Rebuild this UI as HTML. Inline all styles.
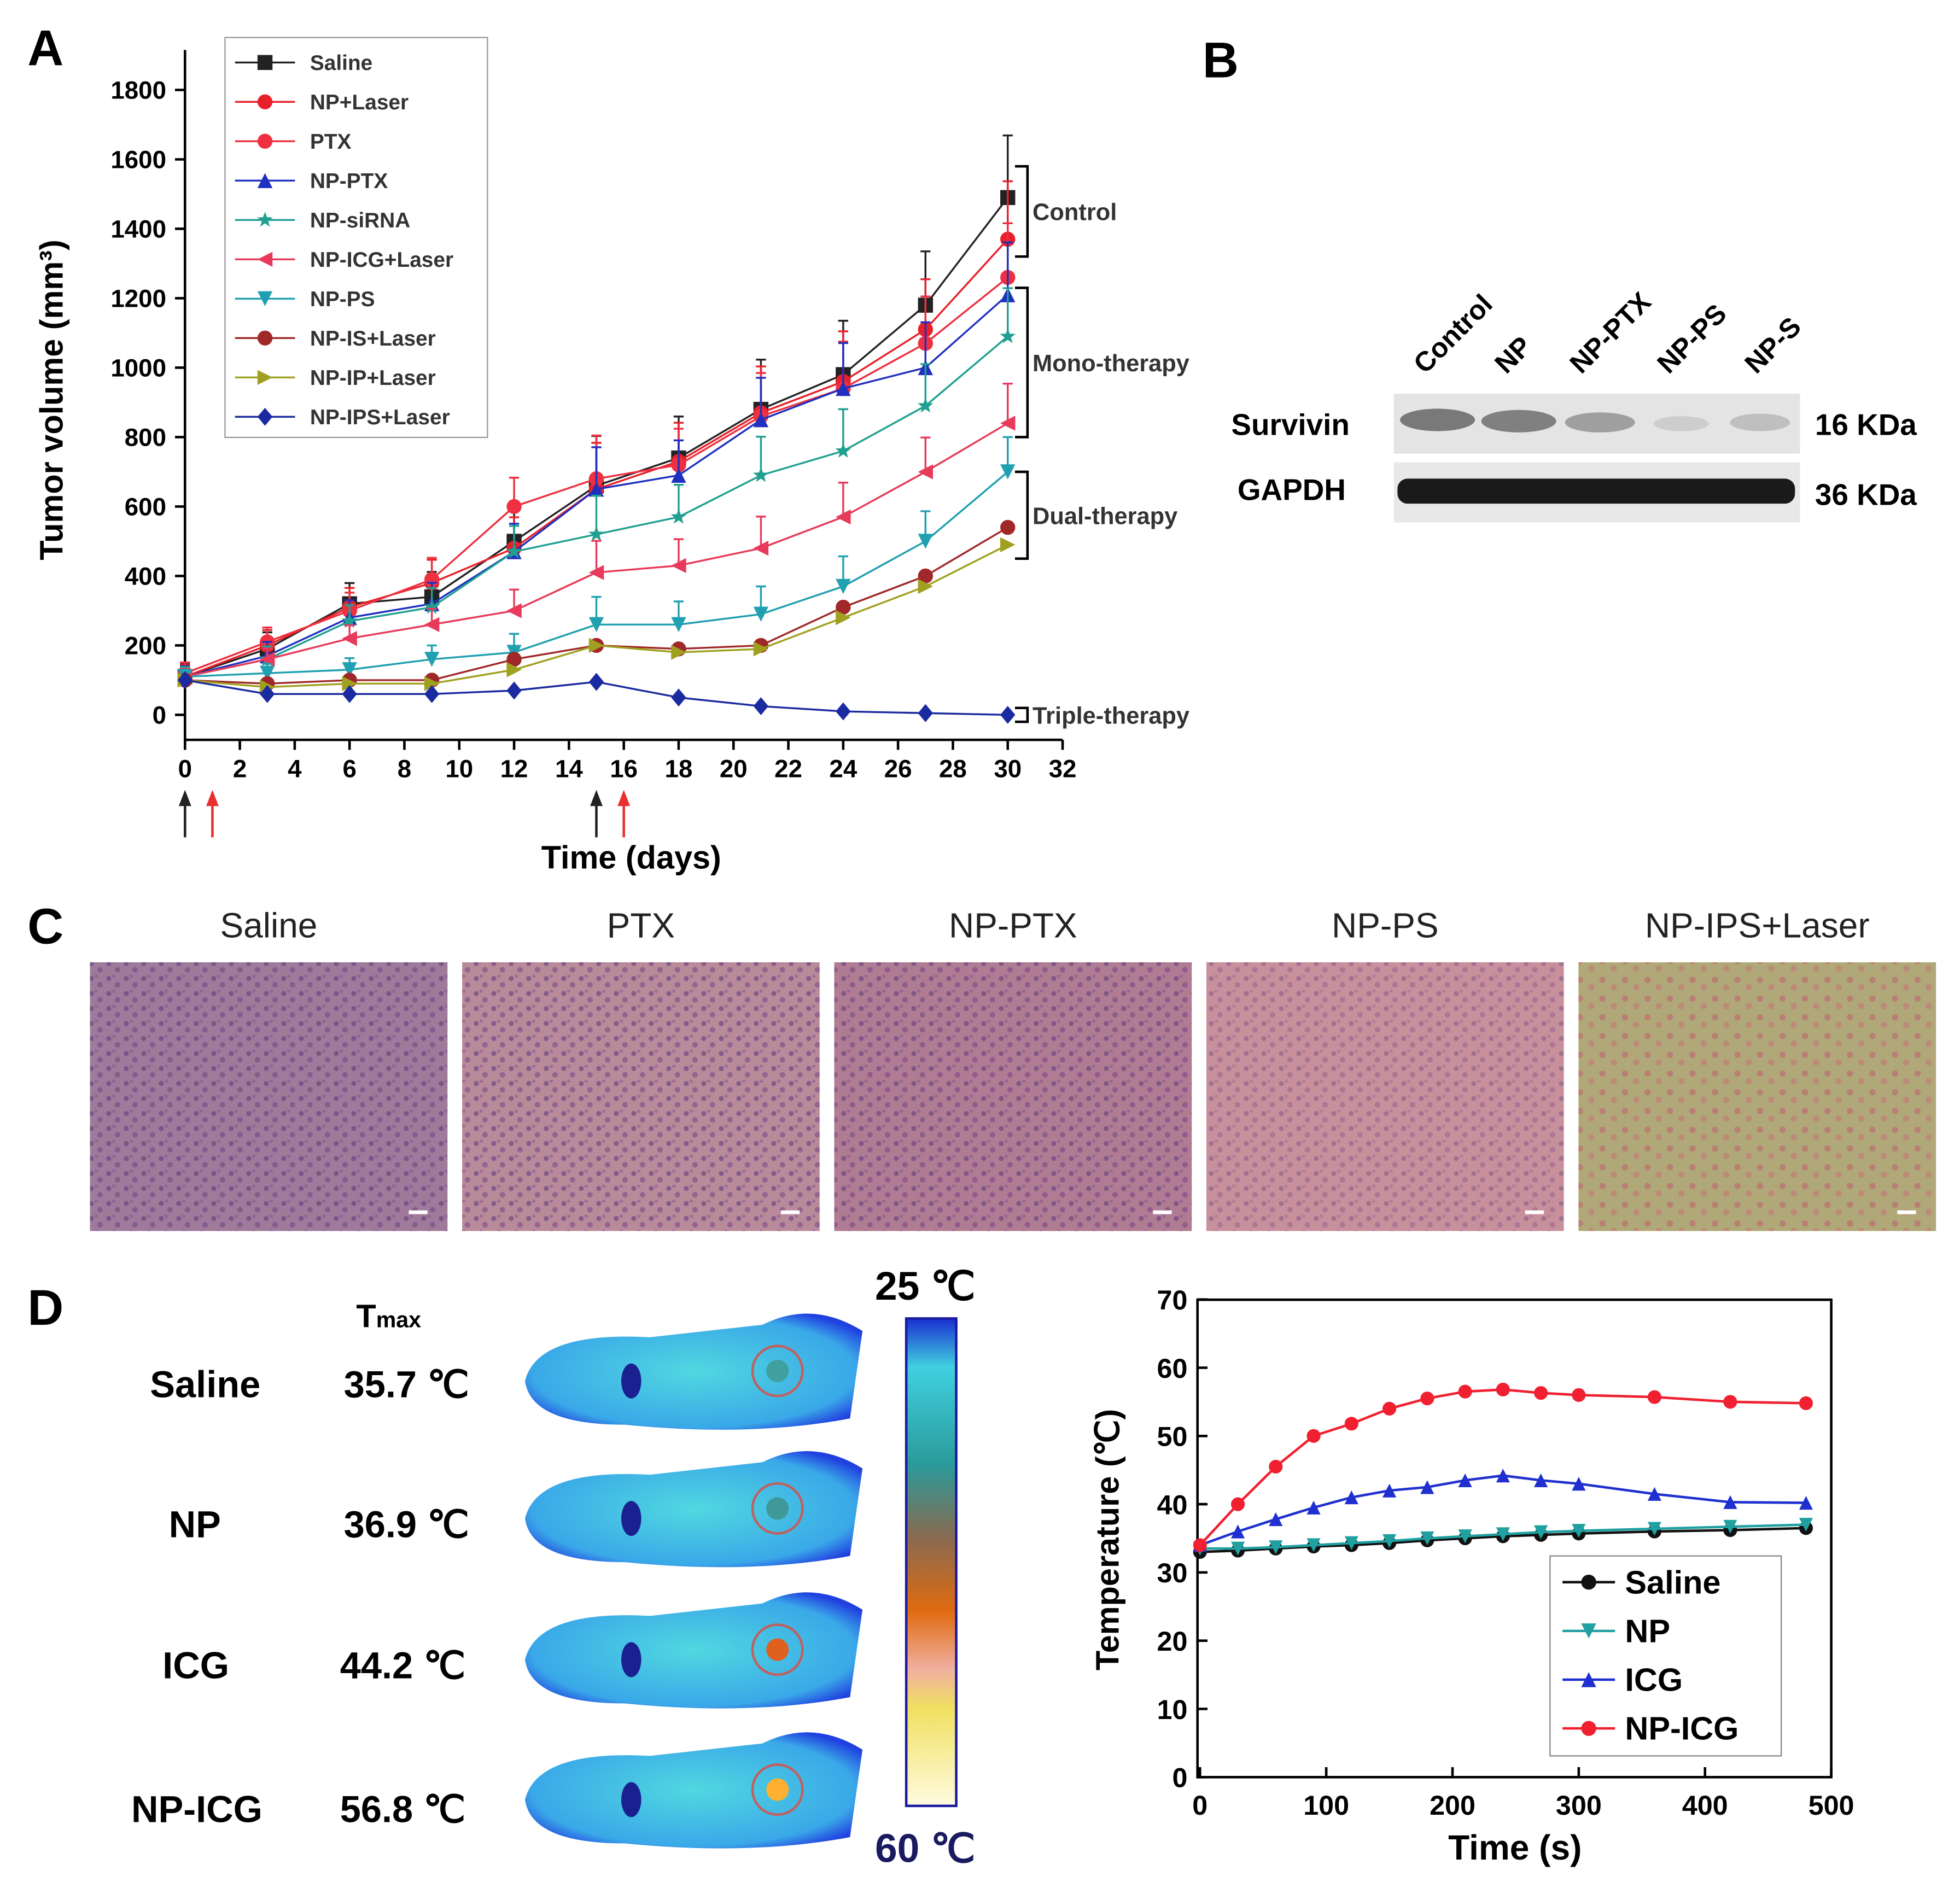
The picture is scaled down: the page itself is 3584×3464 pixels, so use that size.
<!DOCTYPE html>
<html><head><meta charset="utf-8">
<style>
html,body{margin:0;padding:0;background:#fff;}
svg{display:block;font-family:"Liberation Sans",sans-serif;}
</style></head>
<body>
<svg id="fig" width="3584" height="3464" viewBox="0 0 1568 1515.5" xmlns="http://www.w3.org/2000/svg">
<defs>
<linearGradient id="cbar" x1="0" y1="0" x2="0" y2="1">
<stop offset="0" stop-color="#1a2fd0"/><stop offset="0.1" stop-color="#40d0e0"/><stop offset="0.3" stop-color="#2a9a9a"/><stop offset="0.45" stop-color="#8a6a50"/><stop offset="0.6" stop-color="#e06a10"/><stop offset="0.72" stop-color="#f0b0a0"/><stop offset="0.8" stop-color="#f0e060"/><stop offset="1" stop-color="#fffbe0"/></linearGradient>
<radialGradient id="mouse" cx="0.5" cy="0.5" r="0.6"><stop offset="0" stop-color="#50d8e0"/><stop offset="0.8" stop-color="#3aa8e8"/><stop offset="1" stop-color="#2040e0"/></radialGradient>
<pattern id="cells" width="14" height="12" patternUnits="userSpaceOnUse"><circle cx="3" cy="3" r="2" fill="#5a3a7a" opacity="0.7"/><circle cx="10" cy="8" r="2.2" fill="#6a3a80" opacity="0.6"/><circle cx="7" cy="1" r="1.5" fill="#7a4a8a" opacity="0.5"/></pattern>
<pattern id="cells2" width="18" height="15" patternUnits="userSpaceOnUse"><circle cx="4" cy="4" r="2.5" fill="#c06070" opacity="0.7"/><circle cx="13" cy="10" r="2.5" fill="#c86a78" opacity="0.6"/></pattern>
</defs>

<!-- Panel labels -->
<text x="22" y="52" font-size="40" font-weight="bold">A</text>
<text x="962" y="62" font-size="40" font-weight="bold">B</text>
<text x="22" y="755" font-size="40" font-weight="bold">C</text>
<text x="22" y="1060" font-size="40" font-weight="bold">D</text>

<g id="chartA"></g>

<!-- Panel B -->
<g>
<g font-size="22" font-weight="bold">
<text transform="translate(1140,300) rotate(-45)">Control</text>
<text transform="translate(1205,300) rotate(-45)">NP</text>
<text transform="translate(1265,300) rotate(-45)">NP-PTX</text>
<text transform="translate(1335,300) rotate(-45)">NP-PS</text>
<text transform="translate(1405,300) rotate(-45)">NP-S</text>
</g>
<rect x="1115" y="315" width="325" height="48" fill="#e4e4e4"/>
<rect x="1115" y="370" width="325" height="48" fill="#e8e8e8"/>
<ellipse cx="1150" cy="336" rx="30" ry="9" fill="#555" opacity="0.75"/>
<ellipse cx="1215" cy="337" rx="30" ry="9" fill="#555" opacity="0.7"/>
<ellipse cx="1280" cy="338" rx="28" ry="8" fill="#666" opacity="0.55"/>
<ellipse cx="1345" cy="339" rx="22" ry="6" fill="#999" opacity="0.3"/>
<ellipse cx="1408" cy="338" rx="24" ry="7" fill="#888" opacity="0.4"/>
<rect x="1118" y="383" width="318" height="20" rx="8" fill="#1a1a1a"/>
<text x="985" y="348" font-size="24" font-weight="bold">Survivin</text>
<text x="990" y="400" font-size="24" font-weight="bold">GAPDH</text>
<text x="1452" y="348" font-size="24" font-weight="bold">16 KDa</text>
<text x="1452" y="404" font-size="24" font-weight="bold">36 KDa</text>
</g>

<!-- Panel C -->
<g id="panelC"></g>

<!-- Panel D left -->
<g>
<text x="285" y="1062" font-size="26" font-weight="bold">T<tspan font-size="18">max</tspan></text>
<g font-size="30" font-weight="bold">
<text x="120" y="1118">Saline</text>
<text x="135" y="1230">NP</text>
<text x="130" y="1343">ICG</text>
<text x="105" y="1458">NP-ICG</text>
<text x="275" y="1118">35.7 ℃</text>
<text x="275" y="1230">36.9 ℃</text>
<text x="272" y="1343">44.2 ℃</text>
<text x="272" y="1458">56.8 ℃</text>
</g>
<g id="mice"></g>
<rect x="725" y="1055" width="40" height="390" fill="url(#cbar)" stroke="#1a1aa0" stroke-width="2"/>
<text x="700" y="1040" font-size="32" font-weight="bold">25 ℃</text>
<text x="700" y="1490" font-size="32" font-weight="bold" fill="#1a1a60">60 ℃</text>
</g>

<g id="chartD"></g>
</svg>
<script>
const NS="http://www.w3.org/2000/svg";
function mk(parent,tag,attrs,text){const e=document.createElementNS(NS,tag);for(const k in attrs)e.setAttribute(k,attrs[k]);if(text!==undefined)e.textContent=text;parent.appendChild(e);return e;}

// ===== Chart A data =====
const daysA=[0,3,6,9,12,15,18,21,24,27,30];
const seriesNamesA=["Saline","NP+Laser","PTX","NP-PTX","NP-siRNA","NP-ICG+Laser","NP-PS","NP-IS+Laser","NP-IP+Laser","NP-IPS+Laser"];
const salineA=[110,190,320,340,500,660,740,880,980,1180,1490];
const npLaserA=[110,200,310,380,480,650,730,870,960,1110,1370];
const ptxA=[120,210,300,390,600,680,720,860,940,1070,1260];
const npPtxA=[110,170,280,320,470,650,690,850,940,1000,1210];
const npSirnaA=[110,160,270,310,470,520,570,690,760,890,1090];
const npIcgLaserA=[110,160,220,260,300,410,430,480,570,700,840];
const npPsA=[110,120,130,160,180,260,260,290,370,500,700];
const npIsLaserA=[100,90,100,100,160,200,190,200,310,400,540];
const npIpLaserA=[100,80,90,90,130,200,180,190,280,370,490];
const npIpsLaserA=[100,60,60,60,70,95,50,25,10,5,0];
const errA=[30,40,50,60,80,120,100,120,130,130,150];
const yTicksA=[0,200,400,600,800,1000,1200,1400,1600,1800];
const xTicksA=[0,2,4,6,8,10,12,14,16,18,20,22,24,26,28,30,32];

const valsA=[salineA,npLaserA,ptxA,npPtxA,npSirnaA,npIcgLaserA,npPsA,npIsLaserA,npIpLaserA,npIpsLaserA];
const colA=["#222","#e8202a","#ee3040","#2030c0","#20a090","#e83a5a","#20a0b0","#a02828","#a0a020","#1a2aa0"];
const shpA=["sq","ci","ci","tu","st","tl","td","ci","tr","di"];
const xA=d=>148+d*21.94, yA=v=>572-v*0.2778;

function marker(g,shape,cx,cy,c,r){
  if(shape==="sq")return mk(g,"rect",{x:cx-r,y:cy-r,width:2*r,height:2*r,fill:c});
  if(shape==="ci")return mk(g,"circle",{cx,cy,r,fill:c});
  let p;
  if(shape==="tu")p=[[0,-r],[r,r],[-r,r]];
  if(shape==="td")p=[[0,r],[r,-r],[-r,-r]];
  if(shape==="tl")p=[[-r,0],[r,-r],[r,r]];
  if(shape==="tr")p=[[r,0],[-r,-r],[-r,r]];
  if(shape==="di")p=[[0,-r*1.2],[r,0],[0,r*1.2],[-r,0]];
  if(shape==="st"){p=[];for(let i=0;i<10;i++){const a=-Math.PI/2+i*Math.PI/5,rr=i%2?r*0.45:r*1.1;p.push([rr*Math.cos(a),rr*Math.sin(a)]);}}
  return mk(g,"polygon",{points:p.map(q=>(cx+q[0])+","+(cy+q[1])).join(" "),fill:c});
}

const gA=document.getElementById("chartA");
mk(gA,"line",{x1:148,y1:40,x2:148,y2:592,stroke:"#000","stroke-width":2});
mk(gA,"line",{x1:148,y1:592,x2:850,y2:592,stroke:"#000","stroke-width":2});
yTicksA.forEach(v=>{mk(gA,"line",{x1:140,y1:yA(v),x2:148,y2:yA(v),stroke:"#000","stroke-width":2});
 const t=mk(gA,"text",{x:133,y:yA(v)+7,"font-size":20,"font-weight":"bold","text-anchor":"end"},v);
 
 });
xTicksA.forEach(v=>{mk(gA,"line",{x1:xA(v),y1:592,x2:xA(v),y2:600,stroke:"#000","stroke-width":2});
 const t=mk(gA,"text",{x:xA(v),y:622,"font-size":20,"font-weight":"bold","text-anchor":"middle"},v);
 
 });
const yt=mk(gA,"text",{transform:"translate(50,320) rotate(-90)","font-size":26,"font-weight":"bold","text-anchor":"middle"},"Tumor volume (mm³)");


const xt=mk(gA,"text",{x:505,y:695,"font-size":26,"font-weight":"bold","text-anchor":"middle"},"Time (days)");


// injection arrows
[[0,"#222"],[1,"#e83030"],[15,"#222"],[16,"#e83030"]].forEach(a=>{const x=xA(a[0]);
 mk(gA,"line",{x1:x,y1:670,x2:x,y2:640,stroke:a[1],"stroke-width":2});
 mk(gA,"polygon",{points:`${x-5},${645} ${x+5},${645} ${x},${632}`,fill:a[1]});});
valsA.forEach((vals,si)=>{
 const g=mk(gA,"g",{});
 
 
 if(si<7)vals.forEach((v,i)=>{const e=errA[i]*(vals[10]/1500+0.2);mk(g,"line",{x1:xA(daysA[i]),y1:yA(v),x2:xA(daysA[i]),y2:yA(v+e),stroke:colA[si],"stroke-width":1.5});mk(g,"line",{x1:xA(daysA[i])-4,y1:yA(v+e),x2:xA(daysA[i])+4,y2:yA(v+e),stroke:colA[si],"stroke-width":1.5});});
 mk(g,"polyline",{points:vals.map((v,i)=>xA(daysA[i])+","+yA(v)).join(" "),fill:"none",stroke:colA[si],"stroke-width":1.5});
 vals.forEach((v,i)=>marker(g,shpA[si],xA(daysA[i]),yA(v),colA[si],6));
});
// legend
const lg=mk(gA,"g",{});


mk(lg,"rect",{x:180,y:30,width:210,height:320,fill:"#fff",stroke:"#999","stroke-width":1});
seriesNamesA.forEach((n,i)=>{const y=50+i*31.5;
 mk(lg,"line",{x1:188,y1:y,x2:236,y2:y,stroke:colA[i],"stroke-width":1.5});
 marker(lg,shpA[i],212,y,colA[i],6);
 const t=mk(lg,"text",{x:248,y:y+6,"font-size":17,"font-weight":"bold",fill:"#333"},n);
 
 });
// brackets
[[1580,1320,"Control"],[1230,800,"Mono-therapy"],[700,450,"Dual-therapy"],[20,-20,"Triple-therapy"]].forEach(b=>{
 const y1=yA(b[0]),y2=yA(b[1]);
 mk(gA,"path",{d:`M812 ${y1} h10 V${y2} h-10`,fill:"none",stroke:"#000","stroke-width":2});
 const t=mk(gA,"text",{x:826,y:(y1+y2)/2+7,"font-size":19,"font-weight":"bold",fill:"#333"},b[2]);
 
 });

// ===== Panel C =====
const gC=document.getElementById("panelC");
const titlesC=["Saline","PTX","NP-PTX","NP-PS","NP-IPS+Laser"];
const bgC=["#a07a9a","#b88a9a","#b07c94","#c8909c","#b0a878"];
titlesC.forEach((t,i)=>{const x=72+i*297.7;
 const tt=mk(gC,"text",{x:x+143,y:750,"font-size":28,"text-anchor":"middle",fill:"#222"},t);
 
 
 const r=mk(gC,"rect",{x,y:770,width:286,height:215,fill:bgC[i]});
 
 
 mk(gC,"rect",{x,y:770,width:286,height:215,fill:i===4?"url(#cells2)":"url(#cells)",opacity:i===3?0.5:0.8});
 mk(gC,"line",{x1:x+255,y1:970,x2:x+270,y2:970,stroke:"#fff","stroke-width":3});
});

// mice
const gm=document.getElementById("mice");
[1105,1215,1328,1440].forEach((cy,i)=>{
 const g=mk(gm,"g",{});
 
 
 mk(g,"path",{d:`M420 ${cy} Q430 ${cy-40} 520 ${cy-35} L610 ${cy-45} Q650 ${cy-65} 690 ${cy-40} L680 ${cy+30} Q600 ${cy+45} 500 ${cy+35} Q425 ${cy+35} 420 ${cy}Z`,fill:"url(#mouse)"});
 mk(g,"ellipse",{cx:505,cy:cy,rx:8,ry:14,fill:"#1a2090"});
 const hot=["#40a0a0","#409898","#e06020","#ffb030"][i];
 mk(g,"circle",{cx:622,cy:cy-8,r:9,fill:hot});
 mk(g,"circle",{cx:622,cy:cy-8,r:20,fill:"none",stroke:"#c06060","stroke-width":2});
});

// ===== Chart D data =====
const timeD=[0,30,60,90,120,150,180,210,240,270,300,360,420,480];
const namesD=["Saline","NP","ICG","NP-ICG"];
const salineD=[33,33.2,33.5,33.8,34,34.3,34.7,35,35.3,35.5,35.7,36,36.2,36.5];
const npD=[33.5,33.5,33.7,34,34.3,34.6,35,35.3,35.6,35.9,36.1,36.4,36.7,37];
const icgD=[34,36,37.8,39.5,41,42,42.5,43.5,44.2,43.5,43,41.5,40.3,40.2];
const npIcgD=[34,40,45.5,50,51.8,54,55.5,56.5,56.8,56.3,56,55.7,55,54.8];
const yTicksD=[0,10,20,30,40,50,60,70];
const xTicksD=[0,100,200,300,400,500];
const valsD=[salineD,npD,icgD,npIcgD];
const colD=["#111","#20a0a0","#2030d0","#f02030"];
const shpD=["ci","td","tu","ci"];
const xD=t=>960+t*1.01, yD=v=>1422-v*5.46;
const gD=document.getElementById("chartD");
mk(gD,"rect",{x:958,y:1040,width:507,height:382,fill:"none",stroke:"#000","stroke-width":2});
yTicksD.forEach(v=>{mk(gD,"line",{x1:958,y1:yD(v),x2:966,y2:yD(v),stroke:"#000","stroke-width":2});
 const t=mk(gD,"text",{x:950,y:yD(v)+8,"font-size":22,"font-weight":"bold","text-anchor":"end"},v);
 
 });
xTicksD.forEach(v=>{mk(gD,"line",{x1:xD(v),y1:1422,x2:xD(v),y2:1414,stroke:"#000","stroke-width":2});
 const t=mk(gD,"text",{x:xD(v),y:1452,"font-size":22,"font-weight":"bold","text-anchor":"middle"},v);
 
 });
const yt2=mk(gD,"text",{transform:"translate(895,1232) rotate(-90)","font-size":26,"font-weight":"bold","text-anchor":"middle"},"Temperature (℃)");


const xt2=mk(gD,"text",{x:1212,y:1488,"font-size":28,"font-weight":"bold","text-anchor":"middle"},"Time (s)");


valsD.forEach((vals,si)=>{
 const g=mk(gD,"g",{});
 
 
 mk(g,"polyline",{points:vals.map((v,i)=>xD(timeD[i])+","+yD(v)).join(" "),fill:"none",stroke:colD[si],"stroke-width":2});
 vals.forEach((v,i)=>marker(g,shpD[si],xD(timeD[i]),yD(v),colD[si],5.5));
});
const lgD=mk(gD,"g",{});


mk(lgD,"rect",{x:1240,y:1245,width:185,height:160,fill:"#fff",stroke:"#888","stroke-width":1});
namesD.forEach((n,i)=>{const y=1266+i*39;
 mk(lgD,"line",{x1:1250,y1:y,x2:1292,y2:y,stroke:colD[i],"stroke-width":2});
 marker(lgD,shpD[i],1271,y,colD[i],6);
 const t=mk(lgD,"text",{x:1300,y:y+9,"font-size":26,"font-weight":"bold"},n);
 
 });
</script>
</body></html>
